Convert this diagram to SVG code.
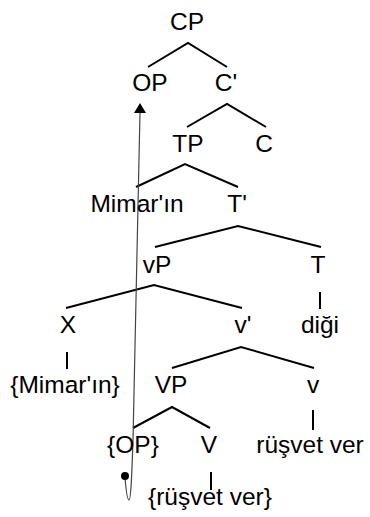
<svg xmlns="http://www.w3.org/2000/svg" width="370" height="517" viewBox="0 0 370 517">
<style>
text{font-family:"Liberation Sans",Arial,sans-serif;font-size:24.5px;fill:#000;text-anchor:middle}
.e{stroke:#000;stroke-width:2;fill:none}
.mv{stroke:#444;stroke-width:1.2;fill:none}
</style>
<rect width="370" height="517" fill="#fff"/>
<g id="connectors">
<polyline class="e" points="148,67 188,43 227,67"/>
<polyline class="e" points="187,127 227,104 266,127"/>
<polyline class="e" points="136,187 185,164 238,187"/>
<polyline class="e" points="155,247 238,226 321,247"/>
<polyline class="e" points="66,308 154,285 242,308"/>
<line class="e" x1="320" y1="292" x2="320" y2="309"/>
<polyline class="e" points="172,368 241,347 314,368"/>
<line class="e" x1="67" y1="352" x2="67" y2="369"/>
<polyline class="e" points="133,428 172,407 210,428"/>
<line class="e" x1="313" y1="410" x2="313" y2="430"/>
<line class="e" x1="211" y1="472" x2="211" y2="490"/>
<path class="mv" d="M125,477 C126,490 127,500 129,500 C131,500 132,470 133,440 L140,112"/>
<circle cx="125" cy="476" r="4" fill="#000"/>
<polygon points="140,103 134,113 146,113" fill="#000"/>
</g>
<g id="CP"><text x="187" y="30">CP</text></g>
<g id="OP"><text x="150" y="91">OP</text></g>
<g id="Cbar"><text x="226" y="91">C'</text></g>
<g id="TP"><text x="188" y="152">TP</text></g>
<g id="C"><text x="264" y="152">C</text></g>
<g id="Mimarin"><text x="137" y="212">Mimar'ın</text></g>
<g id="Tbar"><text x="237" y="212">T'</text></g>
<g id="vP"><text x="157" y="273">vP</text></g>
<g id="T"><text x="318" y="273">T</text></g>
<g id="X"><text x="68" y="333">X</text></g>
<g id="vbar"><text x="243" y="333">v'</text></g>
<g id="digi"><text x="320" y="333">diği</text></g>
<g id="MimarinSet"><text x="65" y="393">{Mimar'ın}</text></g>
<g id="VP"><text x="171" y="393">VP</text></g>
<g id="v"><text x="313" y="393">v</text></g>
<g id="OPSet"><text x="133" y="453">{OP}</text></g>
<g id="V"><text x="209" y="453">V</text></g>
<g id="rusvetver"><text x="310" y="453">rüşvet ver</text></g>
<g id="rusvetverSet"><text x="210" y="505">{rüşvet ver}</text></g>
</svg>
